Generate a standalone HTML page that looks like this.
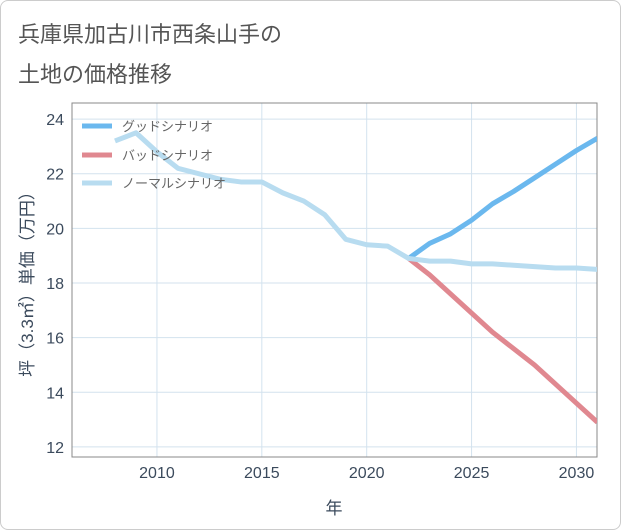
<!DOCTYPE html>
<html><head><meta charset="utf-8">
<style>
body{margin:0;background:#fff;}
#wrap{position:relative;width:619px;height:528px;border:1px solid #ccc;border-radius:8px;background:#fff;overflow:hidden;}
.title{position:absolute;left:17px;font:22px "Liberation Sans","Noto Sans CJK JP",sans-serif;color:#555;}
svg text{font-family:"Liberation Sans","Noto Sans CJK JP",sans-serif;}
</style></head><body>
<div id="wrap">
<div class="title" style="top:16px">兵庫県加古川市西条山手の</div>
<div class="title" style="top:56px">土地の価格推移</div>
<svg id="chart" width="621" height="530" style="position:absolute;left:-1px;top:-1px"></svg>
</div>
<script>
const years=[2008,2009,2010,2011,2012,2013,2014,2015,2016,2017,2018,2019,2020,2021,2022,2023,2024,2025,2026,2027,2028,2029,2030,2031];
const normalValues=[23.2,23.5,22.8,22.2,22.0,21.8,21.7,21.7,21.3,21.0,20.5,19.6,19.4,19.35,18.9,18.8,18.8,18.7,18.7,18.65,18.6,18.55,18.55,18.5];
const futureYears=[2022,2023,2024,2025,2026,2027,2028,2029,2030,2031];
const goodValues=[18.9,19.45,19.8,20.3,20.9,21.35,21.85,22.35,22.85,23.3];
const badValues=[18.9,18.3,17.6,16.9,16.2,15.6,15.0,14.3,13.6,12.9];
const xTicks=[2010,2015,2020,2025,2030];
const yTicks=[12,14,16,18,20,22,24];
const L=72,R=597,T=103,B=457;
const xMin=2005.95,xMax=2030.98,yMin=11.63,yMax=24.59;
const X=v=>L+(v-xMin)/(xMax-xMin)*(R-L);
const Y=v=>B-(v-yMin)/(yMax-yMin)*(B-T);
const svg=document.getElementById('chart');
const NS='http://www.w3.org/2000/svg';
const tickColor='#3b4a5c';
function mk(t,a){const e=document.createElementNS(NS,t);for(const k in a)e.setAttribute(k,a[k]);svg.appendChild(e);return e;}
const clip=mk('clipPath',{id:'pc'});const cr=document.createElementNS(NS,'rect');
cr.setAttribute('x',L);cr.setAttribute('y',T);cr.setAttribute('width',R-L);cr.setAttribute('height',B-T);clip.appendChild(cr);
xTicks.forEach(v=>{const g=mk('line',{x1:X(v),x2:X(v),y1:T,y2:B,stroke:'#d3e2ee','stroke-width':1});

const t=mk('text',{x:X(v),y:478,'text-anchor':'middle','font-size':16,fill:tickColor});t.textContent=v;
});
yTicks.forEach(v=>{const g=mk('line',{x1:L,x2:R,y1:Y(v),y2:Y(v),stroke:'#d3e2ee','stroke-width':1});

const t=mk('text',{x:64,y:Y(v)+6,'text-anchor':'end','font-size':16,fill:tickColor});t.textContent=v;
});
const fr=mk('rect',{x:L,y:T,width:R-L,height:B-T,fill:'none',stroke:'#888','stroke-width':1});

function line(xs,ys,color,name){const p=mk('polyline',{points:xs.map((x,i)=>X(x)+','+Y(ys[i])).join(' '),fill:'none',stroke:color,'stroke-width':5,'stroke-linejoin':'round','clip-path':'url(#pc)'});
}
line(futureYears,badValues,'#e08890','bad-scenario-line');
line(futureYears,goodValues,'#6bb8ee','good-scenario-line');
line(years,normalValues,'#b8dcf0','normal-scenario-line');
const leg=[['グッドシナリオ','#6bb8ee',126],['バッドシナリオ','#e08890',155],['ノーマルシナリオ','#b8dcf0',183]];
leg.forEach(l=>{const a=mk('line',{x1:82,x2:112,y1:l[2],y2:l[2],stroke:l[1],'stroke-width':5});

const t=mk('text',{x:122,y:l[2]+5,'font-size':13,fill:'#666'});t.textContent=l[0];
});
const xt=mk('text',{x:334,y:514,'text-anchor':'middle','font-size':17,fill:tickColor});xt.textContent='年';

const yt=mk('text',{x:0,y:0,'text-anchor':'middle','font-size':17,fill:tickColor,transform:'translate(33,280) rotate(-90)'});yt.textContent='坪（3.3㎡）単価（万円）';

</script>
</body></html>
